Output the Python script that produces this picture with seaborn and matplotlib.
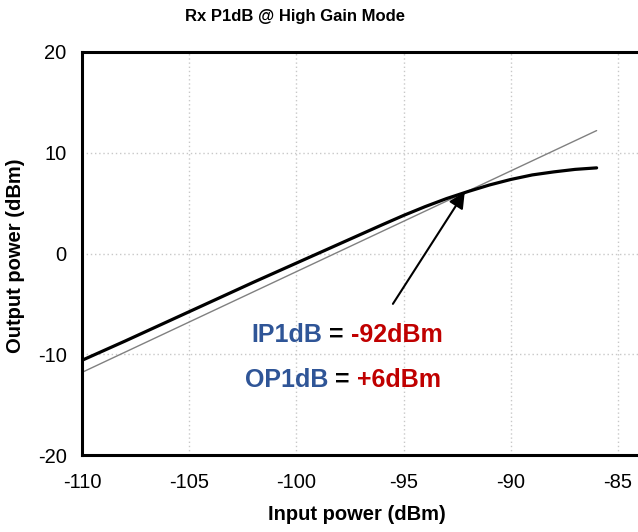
import numpy as np
import pandas as pd
import matplotlib
matplotlib.use("Agg")
import matplotlib.pyplot as plt
import seaborn as sns

# Data
pin = [-110, -108, -106, -104, -102, -100, -98, -96, -95, -94, -93, -92, -91, -90, -89, -88, -87, -86]
pout = [-10.6, -8.7, -6.75, -4.8, -2.85, -0.95, 0.95, 2.85, 3.78, 4.65, 5.45, 6.15, 6.8, 7.35, 7.8, 8.1, 8.35, 8.5]
ideal_x = [-110, -86]
ideal_y = [-11.8, 12.2]
xticks = [-110, -105, -100, -95, -90, -85]
yticks = [-20, -10, 0, 10, 20]

sns.set_theme(style="white")
plt.rcParams['font.family'] = ['Liberation Sans', 'DejaVu Sans']

fig = plt.figure(figsize=(6.38, 5.32), dpi=100)
ax = fig.add_axes([82/638, 1 - 455/532, (638 - 82)/638, (455 - 52)/532])

df = pd.DataFrame({"pin": pin, "pout": pout})
dfi = pd.DataFrame({"pin": ideal_x, "pout": ideal_y})
sns.lineplot(data=dfi, x="pin", y="pout", ax=ax, color="#808080", lw=1.0, zorder=2)
sns.lineplot(data=df, x="pin", y="pout", ax=ax, color="black", lw=2.3, zorder=3)

ax.set_xlim(-110, -84.07)
ax.set_ylim(-20, 20)
ax.set_xticks(xticks)
ax.set_yticks(yticks)
ax.set_xticklabels([str(t) for t in xticks], fontsize=14.5, color='black')
ax.set_yticklabels([str(t) for t in yticks], fontsize=14.5, color='black')
ax.tick_params(axis='x', length=0, pad=13)
ax.tick_params(axis='y', length=0, pad=11)
ax.grid(True, color="#c8c8c8", linestyle=(0, (1, 2)), lw=1.0)

for s in ['left', 'top', 'bottom']:
    ax.spines[s].set_color('black')
    ax.spines[s].set_linewidth(2.2)
ax.spines['right'].set_visible(False)

ax.set_xlabel("")
ax.set_ylabel("")
fig.text(357/638, 1 - 515/532, "Input power (dBm)", ha='center', va='center',
         fontsize=14.5, fontweight='bold', color='black')
fig.text(16/638, 1 - 256/532, "Output power (dBm)", ha='center', va='center',
         rotation=90, fontsize=14.5, fontweight='bold', color='black')
fig.text(295/638, 1 - 17/532, "Rx P1dB @ High Gain Mode", ha='center', va='center',
         fontsize=12, fontweight='bold', color='black')

ax.annotate("", xy=(-92.15, 6.1), xytext=(-95.5, -5.0),
            arrowprops=dict(arrowstyle="-|>", color="black", lw=1.5,
                            mutation_scale=24, shrinkA=0, shrinkB=0))

blue = "#2f5597"
red = "#c00000"

def colored_line(xc, yc, parts, size=18):
    texts = []
    renderer = fig.canvas.get_renderer()
    widths = []
    for s, c in parts:
        t = fig.text(0, 0, s, fontsize=size, fontweight='bold', color=c)
        bb = t.get_window_extent(renderer=renderer)
        widths.append(bb.width)
        texts.append(t)
    total = sum(widths)
    x = xc - total / 2
    for t, w in zip(texts, widths):
        t.set_position((x / 638, 1 - yc / 532))
        t.set_va('center')
        x += w

colored_line(347, 335, [("IP1dB", blue), (" = ", "black"), ("-92dBm", red)])
colored_line(343, 380, [("OP1dB", blue), (" = ", "black"), ("+6dBm", red)])

fig.savefig("out.png", dpi=100)
